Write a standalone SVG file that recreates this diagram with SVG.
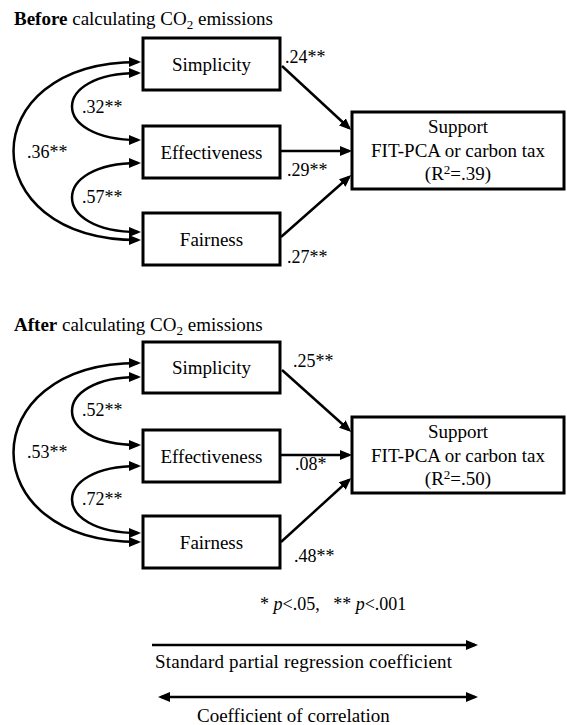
<svg xmlns="http://www.w3.org/2000/svg" width="567" height="725" viewBox="0 0 567 725">
<style>
text{font-family:'Liberation Serif','Times New Roman',serif;fill:#000;}
.t{font-size:19px;}
.lbl{font-size:18px;}
.ctr{text-anchor:middle;}
.box{fill:#fff;stroke:#000;stroke-width:3;}
.ln{fill:none;stroke:#000;stroke-width:2.5;marker-end:url(#ah);}
.dbl{fill:none;stroke:#000;stroke-width:2.5;marker-start:url(#ah);marker-end:url(#ah);}
</style>
<defs>
<marker id="ah" markerUnits="userSpaceOnUse" viewBox="0 0 12 10" markerWidth="12" markerHeight="10" refX="9" refY="5" orient="auto-start-reverse">
<path d="M0,0 L12,5 L0,10 z" fill="#000"/>
</marker>
</defs>

<text class="t" x="14" y="25"><tspan font-weight="bold">Before</tspan> calculating CO<tspan font-size="13" dy="4">2</tspan><tspan dy="-4"> emissions</tspan></text>
<text class="t" x="14" y="331"><tspan font-weight="bold">After</tspan> calculating CO<tspan font-size="13" dy="4">2</tspan><tspan dy="-4"> emissions</tspan></text>

<g id="connectors">
<path class="dbl" d="M138,62 C-28,62 -28,240 138,240"/>
<path class="dbl" d="M138,73 C50,73 50,140 138,140"/>
<path class="dbl" d="M138,163 C50,163 50,232 138,232"/>
<path class="ln" d="M282,66 L349,128"/>
<path class="ln" d="M281,151 L349,151"/>
<path class="ln" d="M281,237 L349,177"/>

<path class="dbl" d="M138,363 C-28,363 -28,542 138,542"/>
<path class="dbl" d="M138,377 C50,377 50,445 138,445"/>
<path class="dbl" d="M138,466 C50,466 50,533 138,533"/>
<path class="ln" d="M282,370 L349,430"/>
<path class="ln" d="M281,455 L349,455"/>
<path class="ln" d="M281,542 L349,480"/>

<path class="ln" d="M152,645 L475,645"/>
<path class="dbl" d="M161,697 L475,697"/>
</g>

<g id="labels">
<text class="lbl" x="285" y="63">.24**</text>
<text class="lbl" x="287" y="176">.29**</text>
<text class="lbl" x="287" y="263">.27**</text>
<text class="lbl" x="82" y="113">.32**</text>
<text class="lbl" x="27" y="158">.36**</text>
<text class="lbl" x="82" y="203">.57**</text>

<text class="lbl" x="293" y="367">.25**</text>
<text class="lbl" x="295" y="470">.08*</text>
<text class="lbl" x="294" y="562">.48**</text>
<text class="lbl" x="82" y="416">.52**</text>
<text class="lbl" x="27" y="458">.53**</text>
<text class="lbl" x="82" y="505">.72**</text>
</g>

<g id="before-simplicity"><rect class="box" x="143" y="38" width="137" height="52"/><text class="t ctr" x="211.5" y="70.5">Simplicity</text></g>
<g id="before-effectiveness"><rect class="box" x="143" y="126" width="137" height="52"/><text class="t ctr" x="211.5" y="158.5">Effectiveness</text></g>
<g id="before-fairness"><rect class="box" x="143" y="213" width="137" height="52"/><text class="t ctr" x="211.5" y="245.5">Fairness</text></g>
<g id="before-support"><rect class="box" x="352" y="112" width="212" height="77"/>
<text class="t ctr" x="458" y="133">Support</text>
<text class="t ctr" x="458" y="157">FIT-PCA or carbon tax</text>
<text class="t ctr" x="458" y="180">(R<tspan font-size="13" dy="-6">2</tspan><tspan dy="6">=.39)</tspan></text></g>

<g id="after-simplicity"><rect class="box" x="143" y="342" width="137" height="51"/><text class="t ctr" x="211.5" y="374">Simplicity</text></g>
<g id="after-effectiveness"><rect class="box" x="143" y="430" width="137" height="52"/><text class="t ctr" x="211.5" y="462.5">Effectiveness</text></g>
<g id="after-fairness"><rect class="box" x="143" y="516" width="137" height="52"/><text class="t ctr" x="211.5" y="548.5">Fairness</text></g>
<g id="after-support"><rect class="box" x="352" y="417" width="212" height="76"/>
<text class="t ctr" x="458" y="438">Support</text>
<text class="t ctr" x="458" y="462">FIT-PCA or carbon tax</text>
<text class="t ctr" x="458" y="485">(R<tspan font-size="13" dy="-6">2</tspan><tspan dy="6">=.50)</tspan></text></g>

<g id="legend">
<text class="lbl" x="260" y="610" style="white-space:pre">* <tspan font-style="italic">p</tspan>&lt;.05,   ** <tspan font-style="italic">p</tspan>&lt;.001</text>
<text class="t" x="155" y="668" textLength="297">Standard partial regression coefficient</text>
<text class="t" x="197" y="722">Coefficient of correlation</text>
</g>
</svg>
